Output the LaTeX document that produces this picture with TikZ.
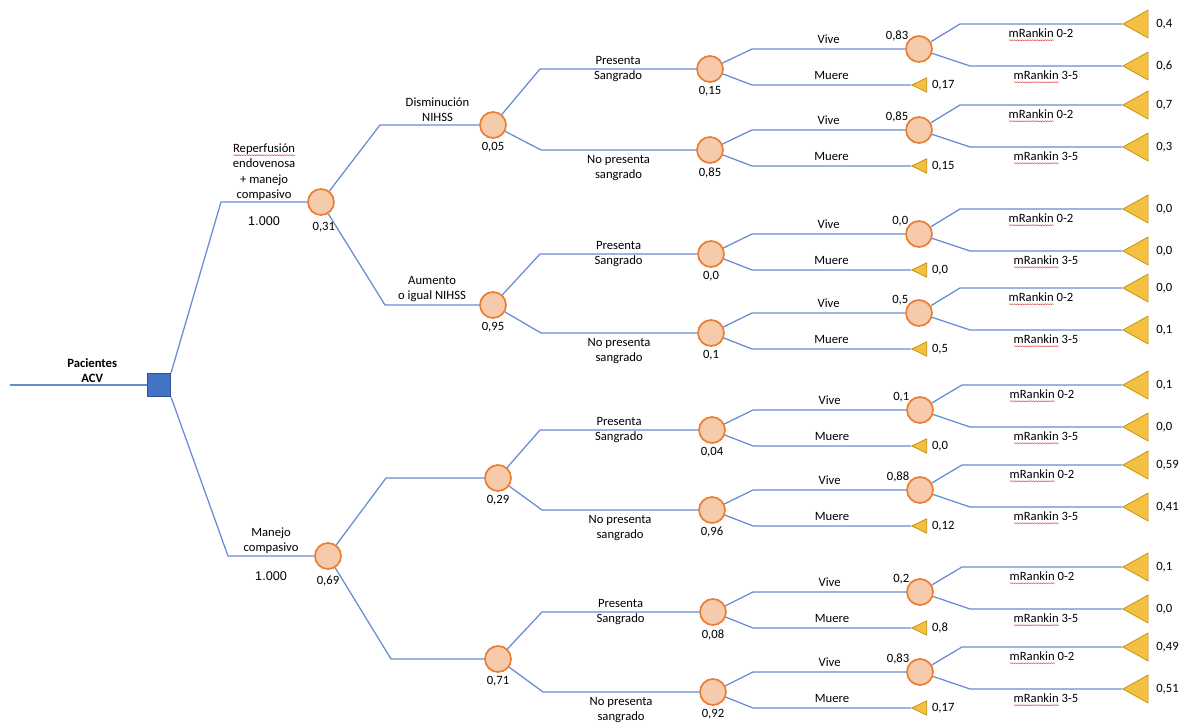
\documentclass[tikz,border=0pt]{standalone}
\usepackage{fontspec}
\setmainfont{Carlito}
\newfontfamily\arialfont{Liberation Sans}
\usetikzlibrary{shapes.geometric, decorations.pathmorphing}

\definecolor{linea}{RGB}{104,140,212}
\definecolor{durazno}{RGB}{245,203,172}
\definecolor{naranja}{RGB}{237,125,49}
\definecolor{azul}{RGB}{68,114,196}
\definecolor{azulosc}{RGB}{47,82,143}
\definecolor{oro}{RGB}{245,192,66}
\definecolor{orooscuro}{RGB}{191,144,0}
\definecolor{rojo}{RGB}{225,60,60}

\newsavebox{\palabra}
\newcommand{\ondulado}[1]{\sbox{\palabra}{#1}\rlap{\tikz[baseline=1.8pt]\draw[rojo, line width=0.3pt, decorate, decoration={snake, amplitude=0.4pt, segment length=1.8pt}] (0pt,0pt) -- (\wd\palabra,0pt);}\usebox{\palabra}}

\begin{document}
\begin{tikzpicture}[x=0.025cm, y=-0.025cm,
    every node/.style={font=\fontsize{9}{10.8}\selectfont, align=center},
    rama/.style={draw=linea, line width=0.9pt},
    azar/.style={circle, draw=naranja, fill=durazno, line width=1.2pt, minimum size=0.65cm, inner sep=0pt},
    decision/.style={rectangle, draw=azulosc, fill=azul, line width=0.6pt, minimum size=0.58cm, inner sep=0pt},
    fin/.style={isosceles triangle, isosceles triangle stretches, shape border rotate=180, draw=orooscuro, fill=oro, line width=0.5pt, inner sep=0pt, minimum width=0.7cm, minimum height=0.63cm, anchor=apex},
    finchico/.style={fin, minimum width=0.36cm, minimum height=0.37cm},
    prob/.style={label distance=-1pt},
    vprob/.style={inner sep=0.5pt, yshift=-2pt}]
        \useasboundingbox (0,0) rectangle (1189,727);
        \coordinate (inicio) at (10,385);
        \node[decision] (raiz) at (159,385) {};
        \node[azar, label={[label distance=1pt, xshift=2pt]below:{0,31}}] (r1) at (321,202) {};
        \node[azar, label={[label distance=1pt]below:{0,69}}] (r2) at (328,556) {};
        \node[azar, label={[prob]below:{0,05}}] (n1) at (493,125) {};
        \node[azar, label={[prob]below:{0,95}}] (n2) at (493,305) {};
        \node[azar, label={[prob]below:{0,29}}] (n3) at (498,478) {};
        \node[azar, label={[prob]below:{0,71}}] (n4) at (498,659) {};
        % sangrado
        \node[azar, label={[prob]below:{0,15}}] (s1) at (710,69) {};
        \node[azar, label={[prob]below:{0,85}}] (s2) at (710,150) {};
        \node[azar, label={[prob]below:{0,0}}] (s3) at (711,254) {};
        \node[azar, label={[prob]below:{0,1}}] (s4) at (711,333) {};
        \node[azar, label={[prob]below:{0,04}}] (s5) at (712,430) {};
        \node[azar, label={[prob]below:{0,96}}] (s6) at (712,510) {};
        \node[azar, label={[prob]below:{0,08}}] (s7) at (713,612) {};
        \node[azar, label={[prob]below:{0,92}}] (s8) at (713,692) {};
        % vive
        \node[azar, label={[vprob]north west:{0,83}}] (v1) at (919,49) {};
        \node[azar, label={[vprob]north west:{0,85}}] (v2) at (919,130) {};
        \node[azar, label={[vprob]north west:{0,0}}] (v3) at (919,234) {};
        \node[azar, label={[vprob]north west:{0,5}}] (v4) at (919,313) {};
        \node[azar, label={[vprob]north west:{0,1}}] (v5) at (920,410) {};
        \node[azar, label={[vprob]north west:{0,88}}] (v6) at (920,490) {};
        \node[azar, label={[vprob]north west:{0,2}}] (v7) at (920,592) {};
        \node[azar, label={[vprob]north west:{0,83}}] (v8) at (920,672) {};
        % muere
        \node[finchico, label={right:{0,17}}] (m1) at (911,85) {};
        \node[finchico, label={right:{0,15}}] (m2) at (911,166) {};
        \node[finchico, label={right:{0,0}}] (m3) at (911,270) {};
        \node[finchico, label={right:{0,5}}] (m4) at (911,349) {};
        \node[finchico, label={right:{0,0}}] (m5) at (911,446) {};
        \node[finchico, label={right:{0,12}}] (m6) at (911,526) {};
        \node[finchico, label={right:{0,8}}] (m7) at (911,628) {};
        \node[finchico, label={right:{0,17}}] (m8) at (911,708) {};
        % mRankin
        \node[fin, label={[label distance=2pt]right:{0,4}}] (a1) at (1122,24) {};
        \node[fin, label={[label distance=2pt]right:{0,6}}] (b1) at (1122,66) {};
        \node[fin, label={[label distance=2pt]right:{0,7}}] (a2) at (1122,105) {};
        \node[fin, label={[label distance=2pt]right:{0,3}}] (b2) at (1122,147) {};
        \node[fin, label={[label distance=2pt]right:{0,0}}] (a3) at (1122,209) {};
        \node[fin, label={[label distance=2pt]right:{0,0}}] (b3) at (1122,251) {};
        \node[fin, label={[label distance=2pt]right:{0,0}}] (a4) at (1122,288) {};
        \node[fin, label={[label distance=2pt]right:{0,1}}] (b4) at (1122,330) {};
        \node[fin, label={[label distance=2pt]right:{0,1}}] (a5) at (1122,385) {};
        \node[fin, label={[label distance=2pt]right:{0,0}}] (b5) at (1122,427) {};
        \node[fin, label={[label distance=2pt]right:{0,59}}] (a6) at (1122,465) {};
        \node[fin, label={[label distance=2pt]right:{0,41}}] (b6) at (1122,507) {};
        \node[fin, label={[label distance=2pt]right:{0,1}}] (a7) at (1122,567) {};
        \node[fin, label={[label distance=2pt]right:{0,0}}] (b7) at (1122,609) {};
        \node[fin, label={[label distance=2pt]right:{0,49}}] (a8) at (1122,647) {};
        \node[fin, label={[label distance=2pt]right:{0,51}}] (b8) at (1122,689) {};

        \draw[rama] (inicio) -- (raiz) node[pos=0.6, above, inner sep=1pt, font=\fontsize{9}{10.8}\selectfont\bfseries] (tpac) {Pacientes\\ACV};
        \draw[rama] (raiz.north east) -- (221,0 |- r1) -- (r1) node[midway, above, inner sep=1pt] (trep) {\ondulado{Reperfusión}\\endovenosa\\+ manejo\\compasivo} node[midway, below=7pt] (tmil1) {\arialfont 1.000};
        \draw[rama] (raiz.south east) -- (228,0 |- r2) -- (r2) node[midway, above, inner sep=1pt] (tman) {Manejo\\compasivo} node[midway, below=7pt] (tmil2) {\arialfont 1.000};
        \draw[rama] (r1) -- (380,0 |- n1) -- (n1) node[pos=0.58, above, inner sep=2pt] (tdis) {Disminución\\NIHSS};
        \draw[rama] (r1) -- (385,0 |- n2) -- (n2) node[midway, above, inner sep=2pt] (taum) {Aumento\\o igual NIHSS};
        \draw[rama] (r2) -- (386,0 |- n3) -- (n3);
        \draw[rama] (r2) -- (391,0 |- n4) -- (n4);

        \draw[rama] (n1) -- (540,0 |- s1) -- (s1) node[midway] (tp1) {Presenta\\Sangrado};
        \draw[rama] (n1) -- (541,0 |- s2) -- (s2) node[midway, below] (tn2) {No presenta\\sangrado};
        \draw[rama] (n2) -- (540,0 |- s3) -- (s3) node[midway] (tp3) {Presenta\\Sangrado};
        \draw[rama] (n2) -- (541,0 |- s4) -- (s4) node[midway, below] (tn4) {No presenta\\sangrado};
        \draw[rama] (n3) -- (540,0 |- s5) -- (s5) node[midway] (tp5) {Presenta\\Sangrado};
        \draw[rama] (n3) -- (542,0 |- s6) -- (s6) node[midway, below] (tn6) {No presenta\\sangrado};
        \draw[rama] (n4) -- (542,0 |- s7) -- (s7) node[midway] (tp7) {Presenta\\Sangrado};
        \draw[rama] (n4) -- (543,0 |- s8) -- (s8) node[midway, below] (tn8) {No presenta\\sangrado};

        \draw[rama] (s1) -- (752,0 |- v1) -- (v1) node[midway, above] (tv1) {Vive};
        \draw[rama] (s1) -- (752,0 |- m1.apex) -- (m1.apex) node[midway, above] (tm1) {Muere};
        \draw[rama] (s2) -- (752,0 |- v2) -- (v2) node[midway, above] (tv2) {Vive};
        \draw[rama] (s2) -- (752,0 |- m2.apex) -- (m2.apex) node[midway, above] (tm2) {Muere};
        \draw[rama] (s3) -- (752,0 |- v3) -- (v3) node[midway, above] (tv3) {Vive};
        \draw[rama] (s3) -- (752,0 |- m3.apex) -- (m3.apex) node[midway, above] (tm3) {Muere};
        \draw[rama] (s4) -- (752,0 |- v4) -- (v4) node[midway, above] (tv4) {Vive};
        \draw[rama] (s4) -- (752,0 |- m4.apex) -- (m4.apex) node[midway, above] (tm4) {Muere};
        \draw[rama] (s5) -- (753,0 |- v5) -- (v5) node[midway, above] (tv5) {Vive};
        \draw[rama] (s5) -- (753,0 |- m5.apex) -- (m5.apex) node[midway, above] (tm5) {Muere};
        \draw[rama] (s6) -- (753,0 |- v6) -- (v6) node[midway, above] (tv6) {Vive};
        \draw[rama] (s6) -- (753,0 |- m6.apex) -- (m6.apex) node[midway, above] (tm6) {Muere};
        \draw[rama] (s7) -- (753,0 |- v7) -- (v7) node[midway, above] (tv7) {Vive};
        \draw[rama] (s7) -- (753,0 |- m7.apex) -- (m7.apex) node[midway, above] (tm7) {Muere};
        \draw[rama] (s8) -- (753,0 |- v8) -- (v8) node[midway, above] (tv8) {Vive};
        \draw[rama] (s8) -- (753,0 |- m8.apex) -- (m8.apex) node[midway, above] (tm8) {Muere};

        \draw[rama] (v1) -- (960,0 |- a1.apex) -- (a1.apex) node[midway, below] (ta1) {\ondulado{mRankin} 0-2};
        \draw[rama] (v1) -- (970,0 |- b1.apex) -- (b1.apex) node[midway, below] (tb1) {\ondulado{mRankin} 3-5};
        \draw[rama] (v2) -- (960,0 |- a2.apex) -- (a2.apex) node[midway, below] (ta2) {\ondulado{mRankin} 0-2};
        \draw[rama] (v2) -- (970,0 |- b2.apex) -- (b2.apex) node[midway, below] (tb2) {\ondulado{mRankin} 3-5};
        \draw[rama] (v3) -- (960,0 |- a3.apex) -- (a3.apex) node[midway, below] (ta3) {\ondulado{mRankin} 0-2};
        \draw[rama] (v3) -- (970,0 |- b3.apex) -- (b3.apex) node[midway, below] (tb3) {\ondulado{mRankin} 3-5};
        \draw[rama] (v4) -- (960,0 |- a4.apex) -- (a4.apex) node[midway, below] (ta4) {\ondulado{mRankin} 0-2};
        \draw[rama] (v4) -- (970,0 |- b4.apex) -- (b4.apex) node[midway, below] (tb4) {\ondulado{mRankin} 3-5};
        \draw[rama] (v5) -- (962,0 |- a5.apex) -- (a5.apex) node[midway, below] (ta5) {\ondulado{mRankin} 0-2};
        \draw[rama] (v5) -- (970,0 |- b5.apex) -- (b5.apex) node[midway, below] (tb5) {\ondulado{mRankin} 3-5};
        \draw[rama] (v6) -- (962,0 |- a6.apex) -- (a6.apex) node[midway, below] (ta6) {\ondulado{mRankin} 0-2};
        \draw[rama] (v6) -- (970,0 |- b6.apex) -- (b6.apex) node[midway, below] (tb6) {\ondulado{mRankin} 3-5};
        \draw[rama] (v7) -- (962,0 |- a7.apex) -- (a7.apex) node[midway, below] (ta7) {\ondulado{mRankin} 0-2};
        \draw[rama] (v7) -- (970,0 |- b7.apex) -- (b7.apex) node[midway, below] (tb7) {\ondulado{mRankin} 3-5};
        \draw[rama] (v8) -- (962,0 |- a8.apex) -- (a8.apex) node[midway, below] (ta8) {\ondulado{mRankin} 0-2};
        \draw[rama] (v8) -- (970,0 |- b8.apex) -- (b8.apex) node[midway, below] (tb8) {\ondulado{mRankin} 3-5}; %mRankin
    \end{tikzpicture}
\end{document}
